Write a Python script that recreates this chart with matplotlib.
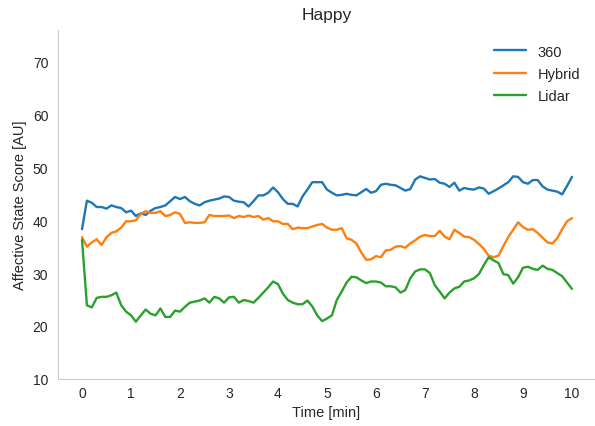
import numpy as np
import matplotlib
matplotlib.use("Agg")
import matplotlib.pyplot as plt
import seaborn as sns

# time in minutes, one sample every 6 s
time_min = np.round(np.arange(0, 10.01, 0.1), 1)

score_360 = [
    38.3, 43.7, 43.3, 42.5, 42.5, 42.2, 42.8, 42.5, 42.3, 41.5,
    41.8, 40.8, 41.3, 41.0, 41.8, 42.3, 42.5, 42.8, 43.6, 44.4,
    44.0, 44.4, 43.6, 43.1, 42.8, 43.4, 43.7, 43.9, 44.1, 44.5,
    44.4, 43.7, 43.5, 43.4, 42.6, 43.6, 44.7, 44.7, 45.2, 46.2,
    45.3, 44.0, 43.1, 43.1, 42.6, 44.5, 45.8, 47.2, 47.2, 47.2,
    45.8, 45.2, 44.7, 44.8, 45.0, 44.8, 44.7, 45.3, 45.9, 45.2,
    45.5, 46.7, 46.9, 46.7, 46.6, 46.1, 45.6, 45.9, 47.7, 48.3,
    48.0, 47.7, 47.8, 47.1, 46.9, 46.3, 47.1, 45.6, 46.1, 45.9,
    45.8, 46.2, 46.0, 45.0, 45.5, 46.0, 46.6, 47.2, 48.3, 48.2,
    47.2, 46.9, 47.6, 47.6, 46.4, 45.8, 45.6, 45.4, 44.9, 46.5,
    48.2,
]

score_hybrid = [
    36.8, 35.0, 35.8, 36.4, 35.3, 36.8, 37.6, 37.9, 38.6, 39.8,
    39.8, 40.0, 41.2, 41.7, 41.4, 41.4, 41.7, 40.8, 41.0, 41.5,
    41.2, 39.5, 39.6, 39.5, 39.5, 39.6, 41.0, 40.8, 40.8, 40.8,
    40.9, 40.4, 40.8, 40.6, 40.9, 40.6, 40.8, 40.1, 40.4, 39.8,
    39.8, 39.3, 39.3, 38.3, 38.6, 38.5, 38.5, 38.8, 39.1, 39.3,
    38.6, 38.2, 38.2, 38.5, 36.6, 36.3, 35.6, 33.9, 32.5, 32.6,
    33.2, 33.0, 34.3, 34.4, 35.0, 35.1, 34.8, 35.6, 36.2, 36.9,
    37.2, 37.0, 37.0, 38.0, 36.9, 36.4, 38.2, 37.6, 36.9, 36.8,
    36.3, 35.5, 34.6, 33.3, 33.0, 33.3, 35.1, 36.8, 38.2, 39.6,
    38.7, 38.2, 38.3, 37.6, 36.7, 35.8, 35.6, 36.6, 38.3, 39.8,
    40.4,
]

score_lidar = [
    36.3, 23.9, 23.5, 25.3, 25.5, 25.5, 25.8, 26.3, 23.9, 22.7,
    22.0, 20.8, 22.0, 23.1, 22.3, 22.0, 23.3, 21.7, 21.7, 22.9,
    22.7, 23.6, 24.4, 24.6, 24.8, 25.2, 24.4, 25.5, 25.2, 24.4,
    25.4, 25.5, 24.4, 24.9, 24.7, 24.4, 25.3, 26.3, 27.3, 28.4,
    27.9, 26.1, 24.9, 24.4, 24.1, 24.1, 24.8, 23.7, 22.0, 20.9,
    21.4, 22.0, 24.9, 26.5, 28.2, 29.3, 29.2, 28.6, 28.1, 28.4,
    28.4, 28.2, 27.5, 27.5, 27.3, 26.3, 26.8, 29.0, 30.3, 30.7,
    30.7, 30.0, 27.7, 26.5, 25.2, 26.3, 27.1, 27.4, 28.4, 28.6,
    29.0, 29.8, 31.5, 33.0, 32.4, 31.9, 29.8, 29.6, 28.0, 29.2,
    31.0, 31.2, 30.8, 30.6, 31.4, 30.8, 30.6, 30.0, 29.4, 28.2,
    27.0,
]

series = {"360": score_360, "Hybrid": score_hybrid, "Lidar": score_lidar}
colors = ["#1f77b4", "#ff7f0e", "#2ca02c"]

sns.set_style("white")
plt.rcParams["font.family"] = ["Liberation Sans", "DejaVu Sans"]

fig = plt.figure(figsize=(5.95, 4.27), dpi=100)
ax = fig.add_axes([58 / 595, 47 / 427, 537 / 595, 349 / 427])

for (name, vals), c in zip(series.items(), colors):
    ax.plot(time_min, vals, color=c, lw=1.7, label=name)

ax.set_xlim(-0.49, 10.47)
ax.set_ylim(9.95, 76.0)
ax.set_xticks(range(0, 11))
ax.set_yticks(range(10, 71, 10))
ax.tick_params(labelsize=10, colors=".15", length=0)
ax.tick_params(axis="x", pad=5)
ax.tick_params(axis="y", pad=7)
ax.set_xlabel("Time [min]", fontsize=10.5, color=".15", labelpad=4)
ax.set_ylabel("Affective State Score [AU]", fontsize=10.5, color=".15", labelpad=4)
ax.set_title("Happy", fontsize=12.5, color=".15", pad=8)
sns.despine(ax=ax)
for s in ("left", "bottom"):
    ax.spines[s].set_color(".8")

ax.legend(loc="upper right", frameon=False, fontsize=10.5, handlelength=2.2,
          borderaxespad=0.6, labelspacing=0.55)

fig.savefig("out.png", dpi=100)
